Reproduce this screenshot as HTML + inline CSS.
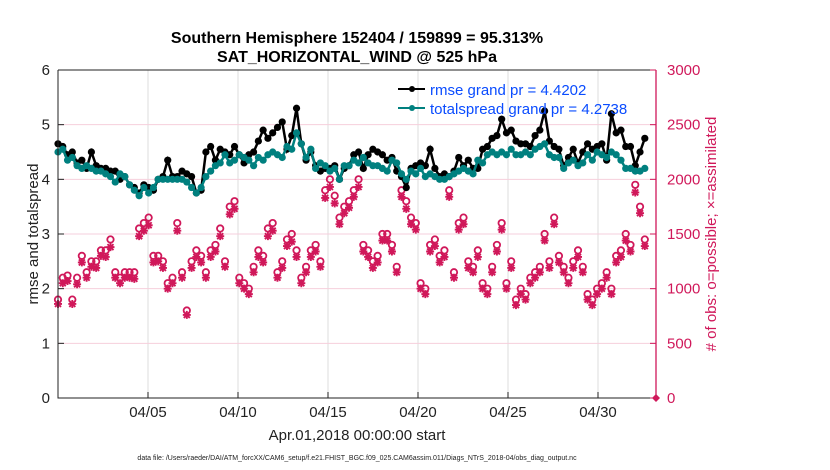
<!DOCTYPE html>
<html><head><meta charset="utf-8">
<style>
body{margin:0;background:#fff;}
svg{display:block;font-family:"Liberation Sans",Arial,sans-serif;}
</style></head>
<body>
<svg id="chart" width="830" height="470" viewBox="0 0 830 470" xmlns="http://www.w3.org/2000/svg">
<rect width="830" height="470" fill="#fff"/>
<g id="grid"></g>
<g id="series"></g>
<g id="axes"></g>
</svg>
<script>
const rmse=[4.65,4.6,4.45,4.5,4.3,4.35,4.2,4.5,4.25,4.2,4.2,4.15,4.15,4.0,4.05,3.9,3.85,3.75,3.9,3.85,3.8,4.0,4.05,4.35,4.05,4.05,4.15,4.1,4.05,3.75,3.8,4.5,4.6,4.35,4.55,4.5,4.45,4.6,4.45,4.3,4.45,4.5,4.7,4.9,4.75,4.85,4.95,5.05,4.55,4.8,5.3,4.65,4.35,4.5,4.25,4.15,4.2,4.2,4.25,4.0,4.2,4.25,4.45,4.5,4.2,4.45,4.55,4.5,4.45,4.35,4.4,4.15,4.05,3.85,4.2,4.25,4.3,4.25,4.55,4.2,4.05,4.1,4.05,4.15,4.4,4.25,4.35,4.2,4.2,4.55,4.6,4.75,4.8,5.1,4.85,4.9,4.7,4.65,4.65,4.6,4.8,4.9,5.25,4.7,4.6,4.55,4.25,4.4,4.55,4.3,4.5,4.65,4.55,4.6,4.65,4.35,5.2,4.85,4.9,4.6,4.6,4.25,4.5,4.75];
const spread=[4.5,4.55,4.35,4.4,4.25,4.2,4.25,4.2,4.15,4.15,4.1,4.05,3.95,4.1,4.05,3.9,3.8,3.7,3.85,3.75,3.85,4.0,4.0,4.0,4.0,4.0,4.0,3.95,3.85,3.75,3.85,4.05,4.15,4.25,4.3,4.45,4.3,4.35,4.45,4.4,4.35,4.25,4.4,4.35,4.45,4.5,4.45,4.4,4.6,4.55,4.85,4.65,4.4,4.55,4.2,4.3,4.25,4.15,4.2,4.0,4.25,4.25,4.35,4.3,4.4,4.3,4.25,4.25,4.2,4.15,4.35,4.3,4.1,4.0,4.15,4.1,4.2,4.05,4.1,4.05,4.0,4.0,4.05,4.1,4.15,4.2,4.15,4.1,4.35,4.3,4.45,4.5,4.45,4.5,4.45,4.55,4.45,4.45,4.5,4.45,4.55,4.6,4.65,4.45,4.4,4.4,4.2,4.3,4.35,4.25,4.3,4.45,4.35,4.5,4.45,4.4,4.5,4.45,4.35,4.2,4.2,4.15,4.15,4.2];
const possible=[900,1100,1120,900,1100,1300,1150,1250,1250,1350,1350,1450,1150,1100,1150,1150,1150,1550,1600,1650,1300,1300,1250,1050,1100,1600,1150,800,1250,1350,1300,1150,1350,1400,1550,1250,1750,1800,1100,1050,1000,1200,1350,1300,1550,1600,1150,1250,1450,1500,1350,1100,1200,1350,1400,1250,1900,2000,1850,1650,1750,1800,1900,2000,1400,1350,1250,1300,1500,1500,1400,1200,1900,1800,1650,1600,1050,1000,1400,1450,1300,1350,1900,1150,1600,1650,1250,1200,1350,1050,1000,1200,1400,1600,1050,1250,900,1000,950,1100,1150,1200,1500,1250,1650,1300,1200,1100,1250,1350,1200,950,900,1000,1050,1150,1000,1300,1350,1500,1400,1950,1750,1450];
const assimilated=[860,1050,1070,860,1040,1240,1100,1200,1190,1300,1290,1380,1100,1050,1100,1100,1090,1480,1530,1580,1240,1250,1190,1000,1050,1530,1100,760,1190,1290,1240,1100,1290,1340,1480,1200,1680,1730,1050,1000,950,1150,1290,1240,1480,1530,1100,1190,1390,1430,1290,1050,1150,1290,1340,1200,1830,1930,1780,1590,1690,1740,1840,1930,1340,1290,1190,1240,1440,1440,1340,1150,1840,1730,1590,1540,1000,950,1340,1390,1240,1290,1840,1100,1540,1590,1190,1150,1290,1000,950,1150,1340,1540,1000,1190,850,950,900,1050,1100,1150,1440,1190,1590,1240,1150,1050,1190,1290,1150,900,850,950,1000,1100,950,1240,1290,1440,1340,1880,1690,1390];
const xTickDays=[5,10,15,20,25,30];
const xTickLabels=["04/05","04/10","04/15","04/20","04/25","04/30"];
const yTicks=[0,1,2,3,4,5,6];
const y2Ticks=[0,500,1000,1500,2000,2500,3000];

const NS="http://www.w3.org/2000/svg";
const L=58,R=656,T=70,B=398;
const dayMin=0,dayMax=(R-L)/18,dataSpan=32.6;
const xs=d=>L+(d-dayMin)/(dayMax-dayMin)*(R-L);
const ys=v=>B-v/6*(B-T);
const y2s=v=>B-v/3000*(B-T);
const xi=i=>xs(i*dataSpan/(rmse.length-1));
function mk(tag,attrs,parent,txt){const e=document.createElementNS(NS,tag);for(const k in attrs)e.setAttribute(k,attrs[k]);if(txt!==undefined)e.textContent=txt;parent.appendChild(e);return e;}
const grid=document.getElementById('grid'),series=document.getElementById('series'),axes=document.getElementById('axes');
xTickDays.forEach(d=>{const l=mk('line',{x1:xs(d),x2:xs(d),y1:T,y2:B,stroke:'#ddd','stroke-width':1},grid);

});
y2Ticks.slice(1,-1).forEach(v=>{const l=mk('line',{x1:L,x2:R,y1:y2s(v),y2:y2s(v),stroke:'#f6cfdc','stroke-width':1},grid);

});
const crim='#d0185a';
possible.forEach((v,i)=>{const c=mk('circle',{cx:xi(i),cy:y2s(v),r:3.2,fill:'none',stroke:crim,'stroke-width':1.8},series);

});
assimilated.forEach((v,i)=>{const x=xi(i),y=y2s(v);const p=mk('path',{d:`M${x-4} ${y}H${x+4}M${x} ${y-4}V${y+4}M${x-3} ${y-3}L${x+3} ${y+3}M${x-3} ${y+3}L${x+3} ${y-3}`,stroke:crim,'stroke-width':1.9},series);

});
function line(arr,color,name,r){const pts=arr.map((v,i)=>xi(i).toFixed(1)+','+ys(v).toFixed(1)).join(' ');
const pl=mk('polyline',{points:pts,fill:'none',stroke:color,'stroke-width':2.5},series);


arr.forEach((v,i)=>{const c=mk('circle',{cx:xi(i),cy:ys(v),r:r,fill:color},series);

});}
line(rmse,'#000','rmse',3.6);
line(spread,'#00807f','totalspread',3.6);
const fr=mk('path',{d:`M${L} ${T}H${R}M${L} ${T}V${B}H${R}`,fill:'none',stroke:'#222','stroke-width':1},axes);


const ra=mk('line',{x1:R,x2:R,y1:T,y2:B,stroke:crim,'stroke-width':1.3},axes);


const dm=mk('path',{d:`M${R} ${B-4}L${R+4} ${B}L${R} ${B+4}L${R-4} ${B}Z`,fill:crim},axes);


xTickDays.forEach((d,k)=>{mk('line',{x1:xs(d),x2:xs(d),y1:B,y2:B-6,stroke:'#222'},axes);
const t=mk('text',{x:xs(d),y:B+19,'font-size':15,'text-anchor':'middle',fill:'#222'},axes,xTickLabels[k]);

});
yTicks.forEach(v=>{mk('line',{x1:L,x2:L+6,y1:ys(v),y2:ys(v),stroke:'#222'},axes);
const t=mk('text',{x:L-8,y:ys(v)+5,'font-size':15,'text-anchor':'end',fill:'#222'},axes,String(v));

});
y2Ticks.forEach(v=>{mk('line',{x1:R-6,x2:R,y1:y2s(v),y2:y2s(v),stroke:crim},axes);
const t=mk('text',{x:R+11,y:y2s(v)+5,'font-size':15,fill:crim},axes,String(v));

});
</script>
<svg style="position:absolute;left:0;top:0" width="830" height="470">
<text x="357" y="43" font-size="16" font-weight="bold" text-anchor="middle" fill="#000">Southern Hemisphere 152404 / 159899 = 95.313%</text>
<text x="357" y="62" font-size="16" font-weight="bold" text-anchor="middle" fill="#000">SAT_HORIZONTAL_WIND @ 525 hPa</text>
<g>
<line x1="398" x2="425" y1="89" y2="89" stroke="#000" stroke-width="2"/><circle cx="412" cy="89" r="3" fill="#000"/>
<text x="430" y="95" font-size="15" fill="#0a4cff">rmse grand pr = 4.4202</text>
<line x1="398" x2="425" y1="108" y2="108" stroke="#00807f" stroke-width="2"/><circle cx="412" cy="108" r="3" fill="#00807f"/>
<text x="430" y="114" font-size="15" fill="#0a4cff">totalspread grand pr = 4.2738</text>
</g>
<text transform="translate(38,234) rotate(-90)" font-size="15" text-anchor="middle" fill="#222">rmse and totalspread</text>
<text transform="translate(716,234) rotate(-90)" font-size="15" text-anchor="middle" fill="#d0185a"># of obs: o=possible; ×=assimilated</text>
<text x="357" y="440" font-size="15" text-anchor="middle" fill="#222">Apr.01,2018 00:00:00 start</text>
<text x="357" y="460" font-size="7" text-anchor="middle" fill="#222">data file: /Users/raeder/DAI/ATM_forcXX/CAM6_setup/f.e21.FHIST_BGC.f09_025.CAM6assim.011/Diags_NTrS_2018-04/obs_diag_output.nc</text>
</svg>
</body></html>
